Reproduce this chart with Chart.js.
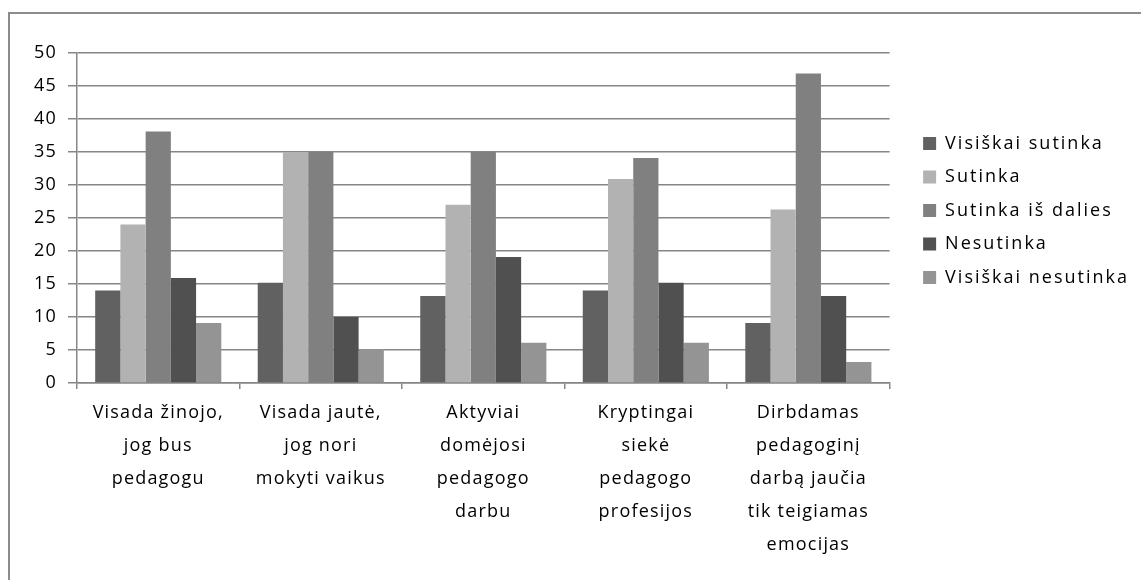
<!DOCTYPE html>
<html>
<head>
<meta charset="utf-8">
<script src="https://cdn.jsdelivr.net/npm/chart.js@4"></script>
<style>
  html, body { margin: 0; padding: 0; background: #fff; }
  #wrap { position: relative; width: 1141px; height: 580px; overflow: hidden; }
  #frame { position: absolute; left: 8px; top: 12px; right: -10px; bottom: -10px;
           border-top: 2px solid #8c8c8c; border-left: 2px solid #8c8c8c; }
  canvas { position: absolute; left: 0; top: 0; }
</style>
</head>
<body>
<div id="wrap">
  <div id="frame"></div>
  <canvas id="chart" width="1141" height="580"></canvas>
</div>
<script>
// categories (multi-line labels as in the original)
const categories = [
  ["Visada žinojo,", "jog bus", "pedagogu"],
  ["Visada jautė,", "jog nori", "mokyti vaikus"],
  ["Aktyviai", "domėjosi", "pedagogo", "darbu"],
  ["Kryptingai", "siekė", "pedagogo", "profesijos"],
  ["Dirbdamas", "pedagoginį", "darbą jaučia", "tik teigiamas", "emocijas"]
];

const seriesNames = ["Visiškai sutinka", "Sutinka", "Sutinka iš dalies", "Nesutinka", "Visiškai nesutinka"];
const seriesColors = ["#616161", "#b2b2b2", "#808080", "#505050", "#949494"];

const visiskaiSutinka   = [14.0, 15.2, 13.2, 14.0, 9.1];
const sutinka           = [24.0, 35.0, 27.0, 30.9, 26.3];
const sutinkaIsDalies   = [38.1, 35.0, 35.0, 34.1, 46.9];
const nesutinka         = [15.9, 10.0, 19.1, 15.2, 13.2];
const visiskaiNesutinka = [9.1, 5.1, 6.1, 6.1, 3.2];

const yMin = 0, yMax = 50, yStep = 5;

const allSeries = [visiskaiSutinka, sutinka, sutinkaIsDalies, nesutinka, visiskaiNesutinka];

const fontFamily = "'Open Sans', 'Noto Sans', sans-serif";
const gridColor = "#868686";
const axisSpacing = "1.2px";   // the original text is drawn quite loose
const legendSpacing = "2px";
const legendGap = 20;          // extra room between plot and legend
const legendShiftX = 18;
const legendShiftY = -100;     // legend sits higher than centre

// letter spacing + moving the legend where the original has it
const spacingPlugin = {
  id: "spacing",
  beforeInit(chart) {
    const legend = chart.legend;
    const fit = legend.fit.bind(legend);
    const draw = legend.draw.bind(legend);
    legend.fit = function () {
      const c = chart.ctx;
      c.save();
      c.letterSpacing = legendSpacing;
      fit();
      c.restore();
      if (!this.isHorizontal()) this.width += legendGap;
    };
    legend.draw = function () {
      const c = chart.ctx;
      c.save();
      c.letterSpacing = legendSpacing;
      c.translate(legendShiftX, legendShiftY);
      draw();
      c.restore();
    };
  },
  beforeLayout(chart) { chart.ctx.letterSpacing = axisSpacing; },
  beforeDraw(chart) { chart.ctx.letterSpacing = axisSpacing; }
};

const ctx = document.getElementById("chart").getContext("2d");

new Chart(ctx, {
  type: "bar",
  data: {
    labels: categories,
    datasets: allSeries.map((vals, i) => ({
      label: seriesNames[i],
      data: vals,
      backgroundColor: seriesColors[i],
      borderWidth: 0,
      categoryPercentage: 0.776,
      barPercentage: 1.0
    }))
  },
  options: {
    responsive: false,
    animation: false,
    layout: { padding: { top: 53, left: 23, right: 0, bottom: 12 } },
    plugins: {
      tooltip: { enabled: false },
      legend: {
        position: "right",
        align: "center",
        labels: {
          boxWidth: 13,
          boxHeight: 13,
          padding: 15.5,
          color: "#000",
          font: { family: fontFamily, size: 18 }
        }
      }
    },
    scales: {
      x: {
        grid: { drawOnChartArea: false, drawTicks: true, tickLength: 6, color: gridColor, lineWidth: 1.5, offset: true },
        border: { color: gridColor, width: 1.5 },
        ticks: {
          color: "#000",
          maxRotation: 0,
          autoSkip: false,
          padding: 7,
          font: { family: fontFamily, size: 18, lineHeight: 1.833 }
        }
      },
      y: {
        min: yMin,
        max: yMax,
        grid: { color: gridColor, lineWidth: 1.5, tickLength: 9 },
        border: { color: gridColor, width: 1.5 },
        ticks: {
          stepSize: yStep,
          color: "#000",
          padding: 11,
          font: { family: fontFamily, size: 18 }
        }
      }
    }
  },
  plugins: [spacingPlugin]
});
</script>
</body>
</html>
